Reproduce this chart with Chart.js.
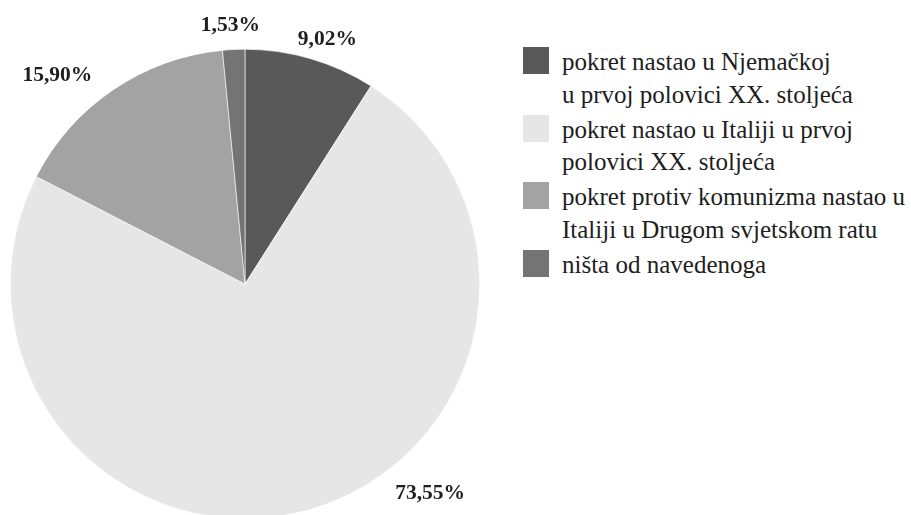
<!doctype html>
<html>
<head>
  <meta charset="utf-8" />
  <title>Pie chart</title>
  <style>
    body { margin:0; background:#fff; overflow:hidden; width:911px; height:515px; position:relative; font-family:"Liberation Serif", serif; color:#1e1e1e; }
    #wrap { position:absolute; left:0; top:0; width:490px; height:568px; }
    #legend { position:absolute; left:523px; top:46px; }
    .item { position:relative; height:67.5px; }
    .box { position:absolute; left:0; top:1px; width:26px; height:27px; }
    .txt { position:absolute; left:39px; top:0; font-size:25px; line-height:32.5px; white-space:nowrap; }
  </style>
  <script src="https://cdn.jsdelivr.net/npm/chart.js"></script>
</head>
<body>
  <div id="wrap"><canvas id="chart"></canvas></div>
  <div id="legend"></div>

<script>
// data
const labels = [
  ['pokret nastao u Njemačkoj', 'u prvoj polovici XX. stoljeća'],
  ['pokret nastao u Italiji u prvoj', 'polovici XX. stoljeća'],
  ['pokret protiv komunizma nastao u', 'Italiji u Drugom svjetskom ratu'],
  ['ništa od navedenoga']
];
const values = [9.02, 73.55, 15.90, 1.53];
const valueLabels = ['9,02%', '73,55%', '15,90%', '1,53%'];
const colors = ['#595959', '#e6e6e6', '#a3a3a3', '#747474'];

// where each percentage sits relative to its slice (angle shift in degrees, distance past the rim)
const labelShift = [[2.4, 23], [-26.3, 45], [-7.8, 46], [-0.5, 24]];

const outsideLabels = {
  id: 'outsideLabels',
  afterDatasetsDraw(chart) {
    const ctx = chart.ctx;
    const meta = chart.getDatasetMeta(0);
    ctx.save();
    ctx.font = 'bold 21.5px "Liberation Serif", serif';
    ctx.fillStyle = '#1e1e1e';
    ctx.textAlign = 'center';
    ctx.textBaseline = 'middle';
    meta.data.forEach((arc, i) => {
      const p = arc.getProps(['x', 'y', 'startAngle', 'endAngle', 'outerRadius'], true);
      const a = (p.startAngle + p.endAngle) / 2 + labelShift[i][0] * Math.PI / 180;
      const d = p.outerRadius + labelShift[i][1];
      ctx.fillText(valueLabels[i], p.x + Math.cos(a) * d, p.y + Math.sin(a) * d);
    });
    ctx.restore();
  }
};

const ctx = document.getElementById('chart').getContext('2d');
const chart = new Chart(ctx, {
  type: 'pie',
  data: {
    labels: labels,
    datasets: [{ data: values, backgroundColor: colors, borderColor: '#ffffff', borderWidth: 0.6 }]
  },
  options: {
    responsive: true,
    maintainAspectRatio: false,
    animation: false,
    layout: { padding: { left: 10, right: 10, top: 49, bottom: 49 } },
    plugins: { legend: { display: false }, tooltip: { enabled: false } }
  },
  plugins: [outsideLabels]
});

// html legend built from the same arrays
const legend = document.getElementById('legend');
labels.forEach((lines, i) => {
  const item = document.createElement('div');
  item.className = 'item';
  const box = document.createElement('div');
  box.className = 'box';
  box.style.background = colors[i];
  const txt = document.createElement('div');
  txt.className = 'txt';
  txt.innerHTML = lines.join('<br>');
  item.appendChild(box);
  item.appendChild(txt);
  legend.appendChild(item);
});
</script>
</body>
</html>
